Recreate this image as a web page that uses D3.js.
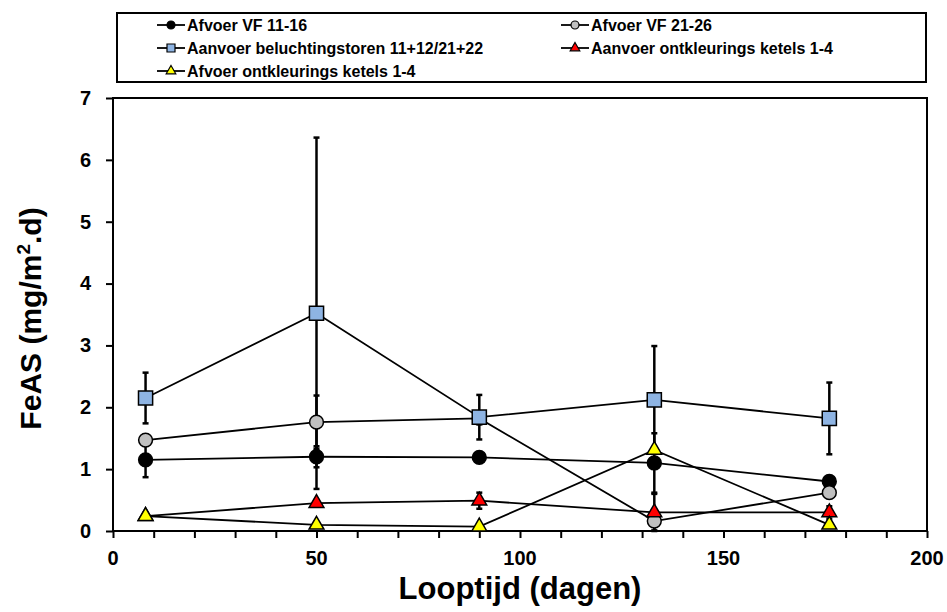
<!DOCTYPE html>
<html>
<head>
<meta charset="utf-8">
<script src="https://cdn.jsdelivr.net/npm/d3@7"></script>
<style>
  body { margin: 0; background: #fff; }
  text { font-family: "Liberation Sans", Arial, sans-serif; font-weight: bold; }
</style>
</head>
<body>
<div class="container"></div>
<script>
var SVG_WIDTH = 947, SVG_HEIGHT = 612;

// data
var days = [8, 50, 90, 133, 176];
var seriesNames = [
    "Afvoer VF 11-16",
    "Afvoer VF 21-26",
    "Aanvoer beluchtingstoren 11+12/21+22",
    "Aanvoer ontkleurings ketels 1-4",
    "Afvoer ontkleurings ketels 1-4"
];
var afvoerVF1116 = [1.15, 1.20, 1.19, 1.10, 0.80];
var afvoerVF1116Err = [0.28, 0.17, 0, 0.48, 0];
var afvoerVF2126 = [1.47, 1.76, 1.82, 0.16, 0.62];
var afvoerVF2126Err = [0.05, 0.43, 0, 0.15, 0];
var aanvoerBeluchting = [2.15, 3.52, 1.84, 2.12, 1.82];
var aanvoerBeluchtingErr = [0.41, 2.84, 0.36, 0.87, 0.58];
var aanvoerOntkl = [0.24, 0.45, 0.49, 0.30, 0.30];
var aanvoerOntklErr = [0, 0.05, 0.13, 0.30, 0.10];
var afvoerOntkl = [0.24, 0.10, 0.07, 1.31, 0.10];
var afvoerOntklErr = [0, 0, 0, 0, 0];

var xTicks = [0, 50, 100, 150, 200];
var yTicks = [0, 1, 2, 3, 4, 5, 6, 7];

var series = [
    { name: seriesNames[0], values: afvoerVF1116, err: afvoerVF1116Err, shape: "circle", fill: "#000000" },
    { name: seriesNames[1], values: afvoerVF2126, err: afvoerVF2126Err, shape: "circle", fill: "#c0c0c0" },
    { name: seriesNames[2], values: aanvoerBeluchting, err: aanvoerBeluchtingErr, shape: "square", fill: "#8eb4e3" },
    { name: seriesNames[3], values: aanvoerOntkl, err: aanvoerOntklErr, shape: "triangle", fill: "#ff0000" },
    { name: seriesNames[4], values: afvoerOntkl, err: afvoerOntklErr, shape: "triangle", fill: "#ffff00" }
];

var margin = { left: 113, right: 20, top: 98, bottom: 81 };

var svg = d3.select(".container").append("svg")
    .attr("width", SVG_WIDTH)
    .attr("height", SVG_HEIGHT);

var x = d3.scaleLinear().domain([0, 200]).range([margin.left, SVG_WIDTH - margin.right]);
var y = d3.scaleLinear().domain([0, 7]).range([SVG_HEIGHT - margin.bottom, margin.top]);

var symbolOf = {
    circle: d3.symbolCircle,
    square: d3.symbolSquare,
    triangle: d3.symbolTriangle
};
var bigSize = { circle: 150, square: 200, triangle: 95 };
var smallSize = { circle: 50, square: 64, triangle: 40 };

// frame
svg.append("rect")
    .attr("x", x(0)).attr("y", y(7))
    .attr("width", x(200) - x(0)).attr("height", y(0) - y(7))
    .attr("fill", "none").attr("stroke", "#000").attr("stroke-width", 2);

// axes
var xAxis = svg.append("g")
    .attr("transform", "translate(0," + y(0) + ")")
    .call(d3.axisBottom(x).tickValues(d3.range(0, 201, 10)).tickSize(7).tickFormat(""));
xAxis.select(".domain").remove();
xAxis.selectAll("line").attr("stroke-width", 2);

svg.append("g").selectAll("text")
    .data(xTicks).enter().append("text")
    .attr("x", function (d) { return x(d); })
    .attr("y", y(0) + 34)
    .attr("text-anchor", "middle")
    .style("font-size", "20px")
    .text(function (d) { return d; });

var yAxis = svg.append("g")
    .attr("transform", "translate(" + x(0) + ",0)")
    .call(d3.axisLeft(y).tickValues(yTicks).tickSize(7).tickPadding(15).tickFormat(d3.format("d")));
yAxis.select(".domain").remove();
yAxis.selectAll("line").attr("stroke-width", 2);
yAxis.selectAll("text")
    .style("font-size", "20px")
    .style("font-family", "'Liberation Sans', Arial, sans-serif")
    .style("font-weight", "bold")
    .attr("fill", "#000");

// axis titles
svg.append("text")
    .attr("x", (x(0) + x(200)) / 2)
    .attr("y", 599)
    .attr("text-anchor", "middle")
    .style("font-size", "31px")
    .text("Looptijd (dagen)");

var yTitle = svg.append("text")
    .attr("transform", "translate(41," + ((y(0) + y(7)) / 2 + 4) + ") rotate(-90)")
    .attr("text-anchor", "middle")
    .style("font-size", "30px");
yTitle.append("tspan").text("FeAS (mg/m");
yTitle.append("tspan").attr("dy", -11).style("font-size", "19px").text("2");
yTitle.append("tspan").attr("dy", 11).text(".d)");

var plot = svg.append("g");

// error bars
series.forEach(function (s) {
    var g = plot.append("g");
    s.values.forEach(function (v, i) {
        var e = s.err[i];
        if (!e) return;
        var cx = x(days[i]);
        g.append("line")
            .attr("x1", cx).attr("x2", cx)
            .attr("y1", y(v - e)).attr("y2", y(v + e))
            .attr("stroke", "#000").attr("stroke-width", 2.5);
        [v - e, v + e].forEach(function (w) {
            g.append("line")
                .attr("x1", cx - 3).attr("x2", cx + 3)
                .attr("y1", y(w)).attr("y2", y(w))
                .attr("stroke", "#000").attr("stroke-width", 2.5);
        });
    });
});

// lines
var line = d3.line()
    .x(function (d, i) { return x(days[i]); })
    .y(function (d) { return y(d); });

series.forEach(function (s) {
    plot.append("path")
        .datum(s.values)
        .attr("d", line)
        .attr("fill", "none")
        .attr("stroke", "#000")
        .attr("stroke-width", 1.8);
});

// markers
series.forEach(function (s) {
    plot.append("g").selectAll("path")
        .data(s.values).enter().append("path")
        .attr("transform", function (d, i) { return "translate(" + x(days[i]) + "," + y(d) + ")"; })
        .attr("d", d3.symbol().type(symbolOf[s.shape]).size(bigSize[s.shape]))
        .attr("fill", s.fill)
        .attr("stroke", "#000")
        .attr("stroke-width", 1.5);
});

// legend
var legend = svg.append("g").attr("id", "legend");
legend.append("rect")
    .attr("x", 117).attr("y", 13)
    .attr("width", 809).attr("height", 69)
    .attr("fill", "#fff").attr("stroke", "#000").attr("stroke-width", 2);

var legendPos = [
    { lx: 157, ly: 25 },
    { lx: 561, ly: 25 },
    { lx: 157, ly: 48 },
    { lx: 561, ly: 48 },
    { lx: 157, ly: 71 }
];

series.forEach(function (s, i) {
    var p = legendPos[i];
    var item = legend.append("g").attr("transform", "translate(" + p.lx + "," + p.ly + ")");
    item.append("line")
        .attr("x1", 0).attr("x2", 28)
        .attr("y1", 0).attr("y2", 0)
        .attr("stroke", "#000").attr("stroke-width", 1.8);
    item.append("path")
        .attr("transform", "translate(14,0)")
        .attr("d", d3.symbol().type(symbolOf[s.shape]).size(smallSize[s.shape]))
        .attr("fill", s.fill)
        .attr("stroke", "#000")
        .attr("stroke-width", 1.2);
    item.append("text")
        .attr("x", 30)
        .attr("y", 6)
        .style("font-size", "16px")
        .text(s.name);
});
</script>
</body>
</html>
